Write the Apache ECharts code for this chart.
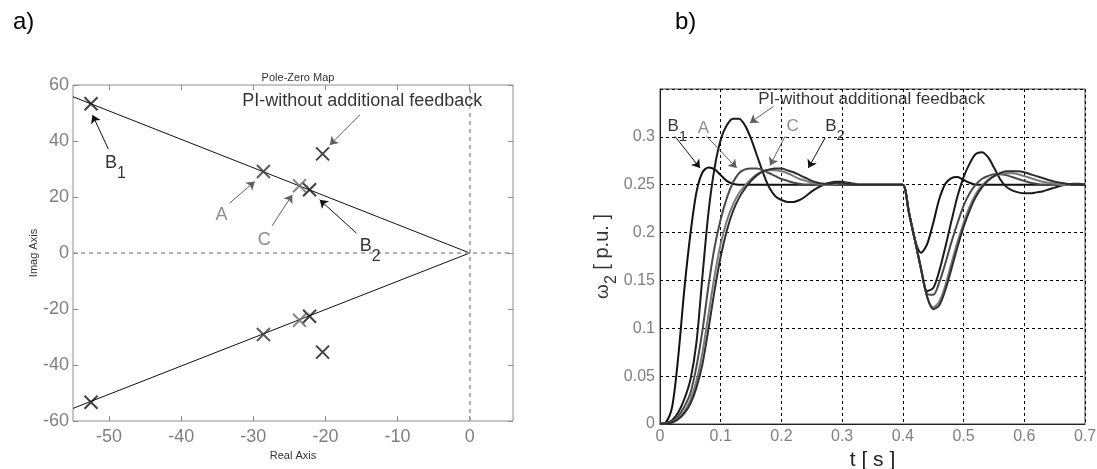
<!DOCTYPE html>
<html>
<head>
<meta charset="utf-8">
<script src="https://cdn.jsdelivr.net/npm/echarts@6/dist/echarts.min.js"></script>
<style>
  html, body { margin: 0; padding: 0; background: #fff; }
  #chart { width: 1097px; height: 469px; }
</style>
</head>
<body>
<div id="chart"></div>
<script>
// a) pole-zero map
const poleNames = ["B1", "A", "C", "B2", "PI"];
const poleRe = [-52.5, -28.6, -23.6, -22.2, -20.4];
const poleIm = [53.3, 29.1, 24.0, 22.6, 35.4];
const dampLine = [[-55, 55.8], [0, 0], [-55, -55.5]];
const reTicks = [-50, -40, -30, -20, -10, 0];

const poleNoteText = ["B1", "A", "C", "B2", "PI-without additional feedback"];
const poleNoteAt = [[-49.1, 30.3], [-34.4, 13.7], [-28.5, 4.8], [-13.8, 0.6], [-14.9, 54.1]];
const poleArrowFrom = [[-50.1, 37.1], [-33.3, 17.8], [-27.4, 9.7], [-15.7, 7.1], [-15.25, 49.3]];
const poleArrowTo = [[-52.3, 49.3], [-29.8, 25.5], [-24.6, 20.8], [-20.8, 19.0], [-19.4, 38.6]];

// b) speed response w2 [p.u.]
const tTime = [0, 0.01, 0.02, 0.03, 0.04, 0.05, 0.06, 0.07, 0.08, 0.09,
  0.1, 0.11, 0.12, 0.13, 0.14, 0.15, 0.16, 0.17, 0.18, 0.19,
  0.2, 0.21, 0.22, 0.23, 0.24, 0.25, 0.26, 0.27, 0.28, 0.29,
  0.3, 0.31, 0.32, 0.33, 0.34, 0.35, 0.36, 0.37, 0.38, 0.39,
  0.4, 0.41, 0.42, 0.43, 0.44, 0.45, 0.46, 0.47, 0.48, 0.49,
  0.5, 0.51, 0.52, 0.53, 0.54, 0.55, 0.56, 0.57, 0.58, 0.59,
  0.6, 0.61, 0.62, 0.63, 0.64, 0.65, 0.66, 0.67, 0.68, 0.69, 0.7];

const wB1 = [0, 0.002, 0.018, 0.07, 0.14, 0.198, 0.242, 0.263, 0.268, 0.266,
  0.26, 0.254, 0.251, 0.25, 0.25, 0.25, 0.25, 0.25, 0.25, 0.25,
  0.25, 0.25, 0.25, 0.25, 0.25, 0.25, 0.25, 0.25, 0.25, 0.25,
  0.25, 0.25, 0.25, 0.25, 0.25, 0.25, 0.25, 0.25, 0.25, 0.25,
  0.25, 0.221, 0.192, 0.179, 0.188, 0.21, 0.235, 0.251, 0.257, 0.258,
  0.255, 0.252, 0.25, 0.25, 0.25, 0.25, 0.25, 0.25, 0.25, 0.25,
  0.25, 0.25, 0.25, 0.25, 0.25, 0.25, 0.25, 0.25, 0.25, 0.25, 0.25];

const wPI = [0, 0.001, 0.004, 0.012, 0.026, 0.046, 0.085, 0.155, 0.222, 0.268,
  0.297, 0.312, 0.319, 0.319, 0.312, 0.298, 0.28, 0.262, 0.247, 0.238,
  0.234, 0.232, 0.232, 0.234, 0.238, 0.243, 0.247, 0.25, 0.252, 0.253,
  0.253, 0.252, 0.251, 0.25, 0.25, 0.25, 0.25, 0.25, 0.25, 0.25,
  0.25, 0.221, 0.192, 0.162, 0.139, 0.142, 0.16, 0.185, 0.212, 0.238,
  0.258, 0.272, 0.282, 0.284, 0.279, 0.268, 0.256, 0.248, 0.244, 0.242,
  0.241, 0.241, 0.242, 0.243, 0.245, 0.247, 0.249, 0.25, 0.251, 0.251, 0.25];

const wA = [0, 0.001, 0.003, 0.008, 0.018, 0.032, 0.06, 0.098, 0.145, 0.185,
  0.214, 0.236, 0.252, 0.262, 0.266, 0.267, 0.267, 0.265, 0.262, 0.259,
  0.256, 0.254, 0.252, 0.251, 0.25, 0.25, 0.25, 0.25, 0.25, 0.25,
  0.25, 0.25, 0.25, 0.25, 0.25, 0.25, 0.25, 0.25, 0.25, 0.25,
  0.25, 0.221, 0.192, 0.162, 0.136, 0.135, 0.148, 0.168, 0.19, 0.21,
  0.228, 0.241, 0.25, 0.256, 0.259, 0.261, 0.261, 0.26, 0.258, 0.256,
  0.254, 0.252, 0.251, 0.25, 0.25, 0.25, 0.25, 0.25, 0.25, 0.25, 0.25];

const wC = [0, 0.0005, 0.002, 0.006, 0.013, 0.025, 0.045, 0.075, 0.115, 0.155,
  0.188, 0.212, 0.229, 0.241, 0.249, 0.256, 0.261, 0.264, 0.265, 0.265,
  0.264, 0.262, 0.259, 0.256, 0.254, 0.252, 0.251, 0.25, 0.25, 0.251,
  0.252, 0.251, 0.25, 0.25, 0.25, 0.25, 0.25, 0.25, 0.25, 0.25,
  0.25, 0.221, 0.192, 0.162, 0.133, 0.122, 0.128, 0.145, 0.168, 0.19,
  0.21, 0.227, 0.24, 0.249, 0.255, 0.259, 0.261, 0.262, 0.262, 0.261,
  0.259, 0.257, 0.255, 0.253, 0.252, 0.251, 0.25, 0.25, 0.25, 0.25, 0.25];

const wB2 = [0, 0.0004, 0.0015, 0.005, 0.011, 0.021, 0.038, 0.063, 0.1, 0.14,
  0.175, 0.202, 0.222, 0.236, 0.246, 0.254, 0.26, 0.264, 0.266, 0.267,
  0.267, 0.265, 0.263, 0.26, 0.257, 0.254, 0.252, 0.251, 0.251, 0.252,
  0.252, 0.251, 0.25, 0.25, 0.25, 0.25, 0.25, 0.25, 0.25, 0.25,
  0.25, 0.221, 0.192, 0.162, 0.133, 0.12, 0.124, 0.14, 0.162, 0.185,
  0.206, 0.223, 0.237, 0.247, 0.254, 0.259, 0.262, 0.264, 0.264, 0.264,
  0.263, 0.261, 0.259, 0.257, 0.255, 0.253, 0.252, 0.251, 0.25, 0.25, 0.25];

const stepNoteText = ["B1", "A", "C", "B2", "PI-without additional feedback"];
const stepNoteAt = [[0.0285, 0.3054], [0.0714, 0.3093], [0.2185, 0.311], [0.2882, 0.3058], [0.3486, 0.3396]];
const stepArrowFrom = [[0.0247, 0.3005], [0.0769, 0.3005], [0.2059, 0.3005], [0.2718, 0.2988], [0.187, 0.3319]];
const stepArrowTo = [[0.0659, 0.2675], [0.1263, 0.2675], [0.1812, 0.27], [0.2443, 0.2675], [0.148, 0.3145]];

const font = "'Liberation Sans', Arial, sans-serif";
const tickGray = "#7f7f7f";
const frameGray = "#8c8c8c";
const noteColor = { B1: "#000", A: "#707070", C: "#707070", B2: "#000" };
const arrowColor = { B1: "#111", A: "#606060", C: "#606060", B2: "#111" };
const poleColor = { B1: "#111", A: "#333", C: "#6a6a6a", B2: "#111", PI: "#111" };
const crossSymbol = "path://M0,0L10,10M10,0L0,10";

function noteLabel(txt, size) {
  const c = noteColor[txt] || "#000";
  const m = /^B(\d)$/.exec(txt);
  return {
    show: true,
    position: "inside",
    color: c,
    fontFamily: font,
    formatter: m ? "{m|B}{s|" + m[1] + "}" : "{m|" + txt + "}",
    rich: {
      m: { fontSize: size, color: c, fontFamily: font, padding: m ? [0, 0, 10, 0] : 0 },
      s: { fontSize: size - 2, color: c, fontFamily: font, padding: [10, 0, 0, 0] }
    }
  };
}

function notesSeries(texts, at, from, to, xi, size) {
  return {
    type: "scatter",
    xAxisIndex: xi,
    yAxisIndex: xi,
    symbolSize: 0.1,
    itemStyle: { color: "transparent" },
    silent: true,
    z: 5,
    data: texts.map((t, i) => ({ value: at[i], label: noteLabel(t, size) })),
    markLine: {
      silent: true,
      symbol: ["none", "arrow"],
      symbolSize: 8,
      label: { show: false },
      data: from.map((p, i) => {
        const c = arrowColor[texts[i]] || "#606060";
        return [
          { coord: p, lineStyle: { color: c, width: 1, type: "solid" } },
          { coord: to[i], lineStyle: { color: c, width: 1, type: "solid" } }
        ];
      })
    }
  };
}

const poleData = [];
poleNames.forEach((n, i) => {
  const st = { color: "transparent", borderColor: poleColor[n], borderWidth: 2 };
  poleData.push({ value: [poleRe[i], poleIm[i]], itemStyle: st });
  poleData.push({ value: [poleRe[i], -poleIm[i]], itemStyle: st });
});

function curve(vals, color) {
  return {
    type: "line",
    xAxisIndex: 2,
    yAxisIndex: 2,
    showSymbol: false,
    smooth: 0.3,
    lineStyle: { color: color, width: 2 },
    data: tTime.map((t, i) => [t, vals[i]])
  };
}

const chart = echarts.init(document.getElementById("chart"));
chart.setOption({
  animation: false,
  backgroundColor: "#fff",
  textStyle: { fontFamily: font },
  title: [
    { text: "a)", left: 8, top: 5, textStyle: { fontSize: 24, fontWeight: "normal", color: "#000", fontFamily: font } },
    { text: "b)", left: 670, top: 5, textStyle: { fontSize: 24, fontWeight: "normal", color: "#000", fontFamily: font } },
    { text: "Pole-Zero Map", left: 293, top: 67, textAlign: "center", textStyle: { fontSize: 11, fontWeight: "normal", color: "#333", fontFamily: font } }
  ],
  grid: [
    { left: 73, top: 85, width: 440, height: 336, show: true, borderColor: frameGray, borderWidth: 1, outerBoundsMode: "none" },
    { left: 660, top: 89, width: 425, height: 335, show: true, borderColor: "#444", borderWidth: 1, outerBoundsMode: "none" }
  ],
  xAxis: [
    {
      gridIndex: 0, type: "value", min: -55, max: 6,
      axisLine: { show: false, onZero: false },
      axisTick: { inside: true, length: 5, customValues: reTicks, lineStyle: { color: frameGray } },
      axisLabel: { customValues: reTicks, color: tickGray, fontSize: 18, fontFamily: font, margin: 7 },
      splitLine: { show: false },
      name: "Real Axis", nameLocation: "middle", nameGap: 27,
      nameTextStyle: { fontSize: 11, color: "#333", fontFamily: font }
    },
    {
      gridIndex: 0, type: "value", position: "top", min: -55, max: 6,
      axisLine: { show: false, onZero: false },
      axisTick: { inside: true, length: 5, customValues: reTicks, lineStyle: { color: frameGray } },
      axisLabel: { show: false },
      splitLine: { show: false }
    },
    {
      gridIndex: 1, type: "value", min: 0, max: 0.7, interval: 0.1,
      axisLine: { show: true, onZero: false, lineStyle: { color: "#222" } },
      axisTick: { show: false },
      axisLabel: { color: tickGray, fontSize: 16, fontFamily: font, margin: 5 },
      splitLine: { show: true, lineStyle: { color: "#000", type: [3, 3], width: 1 } },
      name: "t [ s ]", nameLocation: "middle", nameGap: 20,
      nameTextStyle: { fontSize: 21, color: "#222", fontFamily: font }
    }
  ],
  yAxis: [
    {
      gridIndex: 0, type: "value", min: -60, max: 60, interval: 20,
      axisLine: { show: false, onZero: false },
      axisTick: { inside: true, length: 5, lineStyle: { color: frameGray } },
      axisLabel: { color: tickGray, fontSize: 18, fontFamily: font, margin: 4 },
      splitLine: { show: false },
      name: "Imag Axis", nameLocation: "middle", nameGap: 34, nameRotate: 90,
      nameTextStyle: { fontSize: 11, color: "#333", fontFamily: font }
    },
    {
      gridIndex: 0, type: "value", position: "right", min: -60, max: 60, interval: 20,
      axisLine: { show: false, onZero: false },
      axisTick: { inside: true, length: 5, lineStyle: { color: frameGray } },
      axisLabel: { show: false },
      splitLine: { show: false }
    },
    {
      gridIndex: 1, type: "value", min: 0, max: 0.35, interval: 0.05,
      axisLine: { show: true, onZero: false, lineStyle: { color: "#222" } },
      axisTick: { show: false },
      axisLabel: { color: tickGray, fontSize: 16, fontFamily: font, margin: 5, showMaxLabel: false },
      splitLine: { show: true, lineStyle: { color: "#000", type: [3, 3], width: 1 } },
      name: "{w|ω}{s|2}{u| [ p.u. ]}", nameLocation: "middle", nameGap: 36, nameRotate: 90,
      nameTextStyle: {
        color: "#333", fontFamily: font,
        rich: {
          w: { fontSize: 19, color: "#333", fontFamily: font, padding: [0, 0, 9, 0] },
          s: { fontSize: 16, color: "#333", fontFamily: font, padding: [9, 0, 0, 0] },
          u: { fontSize: 20, color: "#333", fontFamily: font, padding: [0, 0, 9, 0] }
        }
      }
    }
  ],
  series: [
    {
      type: "line",
      xAxisIndex: 0,
      yAxisIndex: 0,
      data: dampLine,
      showSymbol: false,
      silent: true,
      lineStyle: { color: "#111", width: 1 },
      markLine: {
        silent: true,
        symbol: "none",
        label: { show: false },
        lineStyle: { color: "#999", type: [4, 4], width: 1.5 },
        data: [{ xAxis: 0 }, { yAxis: 0 }]
      }
    },
    {
      type: "scatter",
      xAxisIndex: 0,
      yAxisIndex: 0,
      symbol: crossSymbol,
      symbolSize: 13,
      z: 4,
      data: poleData
    },
    notesSeries(poleNoteText, poleNoteAt, poleArrowFrom, poleArrowTo, 0, 18),
    curve(wB1, "#111"),
    curve(wPI, "#1a1a1a"),
    curve(wA, "#4a4a4a"),
    curve(wC, "#7a7a7a"),
    curve(wB2, "#2e2e2e"),
    notesSeries(stepNoteText, stepNoteAt, stepArrowFrom, stepArrowTo, 2, 17)
  ]
});
</script>
</body>
</html>
